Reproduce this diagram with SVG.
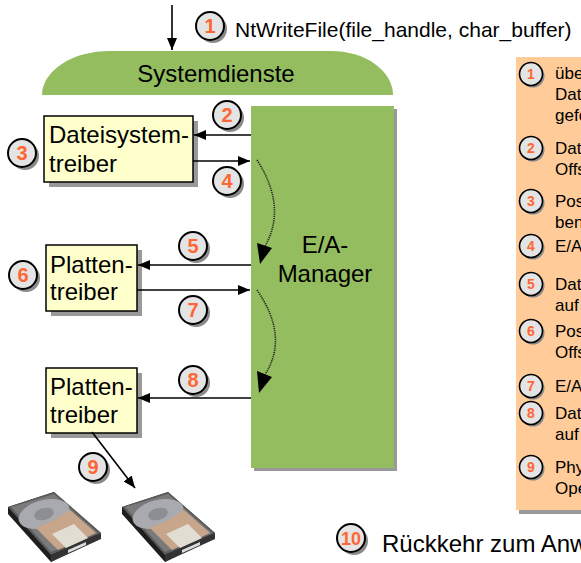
<svg xmlns="http://www.w3.org/2000/svg" xmlns:xlink="http://www.w3.org/1999/xlink" width="581" height="563" viewBox="0 0 581 563">
<style>
text{font-family:"Liberation Sans",Arial,sans-serif;fill:#000}
.lbl{font-size:24px}
.leg{font-size:17px}
.num{font-weight:bold;fill:#FF6633;text-anchor:middle}
.box{fill:#FFFFCC;stroke:#000;stroke-width:1.5}
.shd{fill:#999}
.green{fill:#93BD5E}
.ln{stroke:#000;stroke-width:1.6;fill:none}
.dot{stroke:#222;stroke-width:1.6;fill:none;stroke-dasharray:1.2 1}
.ah{fill:#000}
.cshd{fill:#8a8a8a}
.cfill{fill:#E4E4E4;stroke:#000;stroke-width:2}
</style>
<defs>
<marker id="arr" viewBox="0 0 12 10" refX="12" refY="5" markerWidth="12" markerHeight="10" markerUnits="userSpaceOnUse" orient="auto">
<path d="M0,0 L12,5 L0,10 Z" fill="#000"/>
</marker>
<g id="bigc">
<circle cx="3" cy="3" r="14" class="cshd"/>
<circle cx="0" cy="0" r="14" class="cfill"/>
</g>
<g id="smc">
<circle cx="2" cy="2" r="11.5" class="cshd"/>
<circle cx="0" cy="0" r="11.5" class="cfill" style="stroke-width:1.6"/>
</g>
<g id="drive">
<polygon points="0,15 46,0 93,41 43,70 0,22" fill="#1e1e1e"/>
<polygon points="0,15 46,0 93,41 43,63" fill="#5c5c5c"/>
<polygon points="3,15 46,2 90,41 43,60" fill="#7a7a7a"/>
<ellipse cx="36" cy="22" rx="26" ry="14" transform="rotate(-15 36 22)" fill="#a9a9b0"/>
<ellipse cx="36" cy="22" rx="10" ry="6" transform="rotate(-15 36 22)" fill="#8d8d94"/>
<polygon points="28,36 46,28 62,18 88,41 50,58" fill="#c8a68c"/>
<polygon points="44,42 66,32 80,46 58,56" fill="#e2ddd2"/>
<polygon points="43,63 93,41 93,47 43,70" fill="#333"/>
<polygon points="60,58 78,50 78,53 60,61" fill="#ddd"/>
</g>
</defs>

<rect x="0" y="0" width="581" height="563" fill="#fff"/>

<g id="systemdienste">
<path d="M42,95 A68,44 0 0 1 110,51 L331,51 A62,44 0 0 1 393,95 Z" class="green"/>
<text x="216" y="82" class="lbl" text-anchor="middle">Systemdienste</text>
</g>

<g id="manager">
<rect x="254" y="109" width="143" height="362" class="shd"/>
<rect x="251" y="106" width="143" height="362" class="green"/>
<text x="325" y="253" class="lbl" text-anchor="middle">E/A-</text>
<text x="325" y="282" class="lbl" text-anchor="middle">Manager</text>
</g>

<g id="fsdriver">
<rect x="49" y="121" width="149" height="66" class="shd"/>
<rect x="44" y="116" width="149" height="66" class="box"/>
<text x="49" y="143" class="lbl">Dateisystem-</text>
<text x="49" y="172" class="lbl">treiber</text>
</g>

<g id="disk1driver">
<rect x="51" y="250" width="91" height="66" class="shd"/>
<rect x="46" y="245" width="91" height="66" class="box"/>
<text x="50" y="273" class="lbl">Platten-</text>
<text x="50" y="300" class="lbl">treiber</text>
</g>

<g id="disk2driver">
<rect x="51" y="373" width="91" height="65" class="shd"/>
<rect x="46" y="368" width="91" height="65" class="box"/>
<text x="50" y="395" class="lbl">Platten-</text>
<text x="50" y="423" class="lbl">treiber</text>
</g>

<g id="disks">
<use xlink:href="#drive" x="8" y="492"/>
<use xlink:href="#drive" x="122" y="492"/>
</g>

<g id="connectors">
<line x1="172" y1="5" x2="172" y2="50" class="ln" marker-end="url(#arr)"/>
<line x1="251" y1="135" x2="194" y2="135" class="ln" marker-end="url(#arr)"/>
<line x1="193" y1="161" x2="250" y2="161" class="ln" marker-end="url(#arr)"/>
<line x1="251" y1="265" x2="138" y2="265" class="ln" marker-end="url(#arr)"/>
<line x1="137" y1="290" x2="250" y2="290" class="ln" marker-end="url(#arr)"/>
<line x1="251" y1="398" x2="138" y2="398" class="ln" marker-end="url(#arr)"/>
<line x1="92" y1="432" x2="135" y2="488" class="ln" marker-end="url(#arr)"/>
<path d="M257,160 Q288,208 264,248" class="dot"/>
<polygon points="257,243 272,248 260,264" class="ah"/>
<path d="M257,290 Q290,338 264,376" class="dot"/>
<polygon points="257,371 272,377 259,393" class="ah"/>
</g>

<g id="callouts">
<use xlink:href="#bigc" x="210" y="26"/><text x="210" y="33" class="num" font-size="20">1</text>
<use xlink:href="#bigc" x="227" y="115"/><text x="227" y="122" class="num" font-size="20">2</text>
<use xlink:href="#bigc" x="22" y="153"/><text x="22" y="160" class="num" font-size="20">3</text>
<use xlink:href="#bigc" x="227" y="181"/><text x="227" y="188" class="num" font-size="20">4</text>
<use xlink:href="#bigc" x="193" y="246"/><text x="193" y="253" class="num" font-size="20">5</text>
<use xlink:href="#bigc" x="23" y="275"/><text x="23" y="282" class="num" font-size="20">6</text>
<use xlink:href="#bigc" x="193" y="310"/><text x="193" y="317" class="num" font-size="20">7</text>
<use xlink:href="#bigc" x="193" y="380"/><text x="193" y="387" class="num" font-size="20">8</text>
<use xlink:href="#bigc" x="93" y="467"/><text x="93" y="474" class="num" font-size="20">9</text>
<use xlink:href="#bigc" x="351" y="538"/><text x="351" y="545" class="num" font-size="18">10</text>
<text x="235" y="37" style="font-size:21px">NtWriteFile(file_handle, char_buffer)</text>
<text x="382" y="552" class="lbl">Rückkehr zum Anwender</text>
</g>

<g id="legend">
<rect x="519" y="61" width="70" height="453" class="shd"/>
<rect x="516" y="57" width="70" height="453" fill="#FFCC99"/>
<use xlink:href="#smc" x="531" y="74"/><text x="531" y="79" class="num" font-size="14">1</text>
<text x="555" y="79" class="leg">übergibt</text>
<text x="555" y="100" class="leg">Daten</text>
<text x="555" y="121" class="leg">gefordert</text>
<use xlink:href="#smc" x="531" y="148"/><text x="531" y="153" class="num" font-size="14">2</text>
<text x="555" y="154" class="leg">Datei-Offset</text>
<text x="555" y="175" class="leg">Offset</text>
<use xlink:href="#smc" x="531" y="201"/><text x="531" y="206" class="num" font-size="14">3</text>
<text x="555" y="207" class="leg">Position</text>
<text x="555" y="228" class="leg">benötigt</text>
<use xlink:href="#smc" x="531" y="246"/><text x="531" y="251" class="num" font-size="14">4</text>
<text x="555" y="252" class="leg">E/A-Anforderung</text>
<use xlink:href="#smc" x="531" y="284"/><text x="531" y="289" class="num" font-size="14">5</text>
<text x="555" y="290" class="leg">Daten</text>
<text x="555" y="311" class="leg">auf Platte</text>
<use xlink:href="#smc" x="531" y="331"/><text x="531" y="336" class="num" font-size="14">6</text>
<text x="555" y="337" class="leg">Position</text>
<text x="555" y="358" class="leg">Offset</text>
<use xlink:href="#smc" x="531" y="386"/><text x="531" y="391" class="num" font-size="14">7</text>
<text x="555" y="392" class="leg">E/A-Anforderung</text>
<use xlink:href="#smc" x="531" y="413"/><text x="531" y="418" class="num" font-size="14">8</text>
<text x="555" y="419" class="leg">Daten</text>
<text x="555" y="440" class="leg">auf Platte</text>
<use xlink:href="#smc" x="531" y="467"/><text x="531" y="472" class="num" font-size="14">9</text>
<text x="555" y="473" class="leg">Physische</text>
<text x="555" y="494" class="leg">Operation</text>
</g>
</svg>
